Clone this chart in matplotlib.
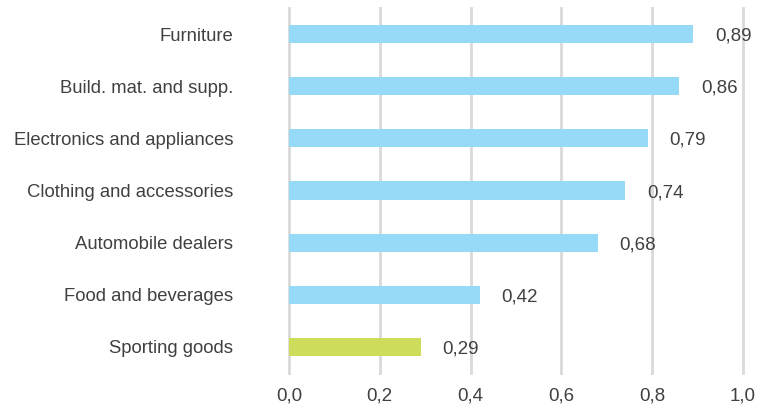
import matplotlib
matplotlib.use("Agg")
import matplotlib.pyplot as plt

categories = ["Furniture", "Build. mat. and supp.", "Electronics and appliances",
              "Clothing and accessories", "Automobile dealers", "Food and beverages",
              "Sporting goods"]
values = [0.89, 0.86, 0.79, 0.74, 0.68, 0.42, 0.29]
colors = ["#97DAF7"] * 6 + ["#CEDC5C"]
xticks = [0.0, 0.2, 0.4, 0.6, 0.8, 1.0]
xticklabels = ["0,0", "0,2", "0,4", "0,6", "0,8", "1,0"]

plt.rcParams['font.family'] = ['Liberation Sans', 'DejaVu Sans']
fig = plt.figure(figsize=(7.61, 4.08), dpi=100)
ax = fig.add_axes([289/761, 1 - 373/408, (743-289)/761, (373-8)/408])

y = list(range(len(categories)))
ax.barh(y, values, height=0.35, color=colors, zorder=3)
ax.set_ylim(len(categories) - 0.5, -0.5)
ax.set_xlim(0, 1.0)
ax.set_yticks(y)
ax.set_yticklabels(categories, fontsize=13.3, color="#404040")
ax.set_xticks(xticks)
ax.set_xticklabels(xticklabels, fontsize=13.5, color="#404040")
ax.tick_params(axis='both', length=0)
ax.tick_params(axis='y', pad=40)
ax.tick_params(axis='x', pad=10.5)
ax.xaxis.grid(True, color="#D9D9D9", linewidth=2, zorder=0)
for line in ax.get_xgridlines():
    line.set_clip_on(False)
for s in ax.spines.values():
    s.set_visible(False)
for yi, v in zip(y, values):
    ax.text(v + 0.048, yi + 0.04, ("%.2f" % v).replace(".", ","), va="center", ha="left",
            fontsize=13.5, color="#404040")

fig.savefig("out.png", dpi=100)
